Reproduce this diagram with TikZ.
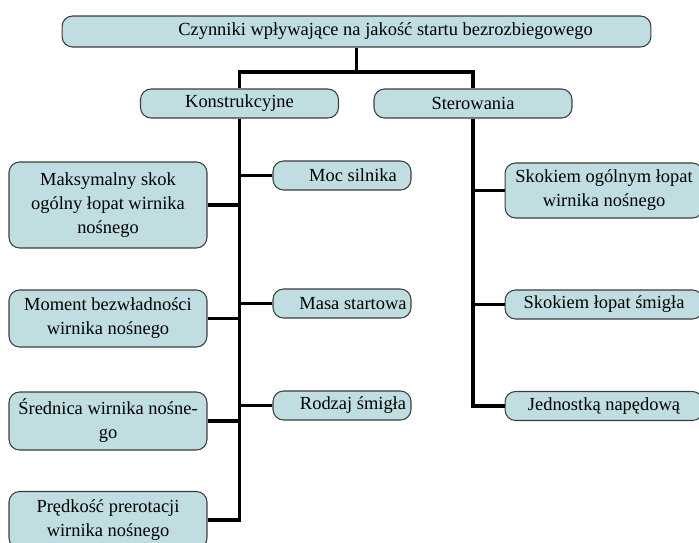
\documentclass[tikz,border=0pt]{standalone}
\usepackage{fontspec}
\setmainfont{Liberation Serif}
\definecolor{boxfill}{RGB}{192,222,226}
\definecolor{boxline}{RGB}{60,60,60}
\tikzset{
  factor/.style={draw=boxline, fill=boxfill, line width=0.6pt, rounded corners=6pt,
    align=center, inner sep=2pt, font=\fontsize{10.5}{13.7}\selectfont,
    minimum width=3.96cm},
  small/.style={factor, minimum width=2.76cm, minimum height=0.58cm},
  link/.style={line width=2pt, line join=miter}
}
\begin{document}
\begin{tikzpicture}[x=0.02cm, y=-0.02cm]
            \useasboundingbox (0,0) rectangle (699,542);
            \clip (0,0) rectangle (699,542);
            % top level
            \node[factor, minimum width=11.78cm, minimum height=0.62cm] (top) at (356.5,31.5)
              {\hspace*{1.16cm}Czynniki wpływające na jakość startu bezrozbiegowego};
            \node[factor, minimum height=0.58cm] (konstr) at (239.5,103.5) {Konstrukcyjne};
            \node[factor, minimum height=0.58cm] (ster) at (473,103.5) {Sterowania};
            \coordinate (split) at (356.5,72);
            \draw[link] (top.south) -- (split);
            \draw[link] (konstr.north) |- (split) -| (ster.north);
            % konstrukcyjne, left column
            \node[factor, minimum height=1.72cm] (skok) at (108,205)
              {Maksymalny skok\\ogólny łopat wirnika\\nośnego};
            \node[factor, minimum height=1.14cm] (moment) at (108,318.5)
              {Moment bezwładności\\wirnika nośnego};
            \node[factor, minimum height=1.16cm] (srednica) at (108,421)
              {Średnica wirnika nośne-\\go};
            \node[factor, minimum height=1.14cm] (predkosc) at (108,520)
              {Prędkość prerotacji\\wirnika nośnego};
            % konstrukcyjne, right column
            \node[small] (moc) at (342,175.5) {\hspace*{0.44cm}Moc silnika};
            \node[small] (masa) at (342,303.5) {\hspace*{0.44cm}Masa startowa};
            \node[small] (smiglo) at (342,405.5) {\hspace*{0.44cm}Rodzaj śmigła};
            \coordinate (kend) at (konstr.south |- predkosc.east);
            \draw[link] (konstr.south) -- (kend) -- (predkosc.east);
            \foreach \n in {skok,moment,srednica}{
              \draw[link] (\n.east) -- (\n.east -| konstr.south);
            }
            \foreach \n in {moc,masa,smiglo}{
              \draw[link] (\n.west) -- (\n.west -| konstr.south);
            }
            % sterowania
            \node[factor, minimum height=1.1cm] (ogolny) at (604,190.5)
              {Skokiem ogólnym łopat\\wirnika nośnego};
            \node[factor, minimum height=0.58cm] (lopaty) at (604,304.5) {Skokiem łopat śmigła};
            \node[factor, minimum height=0.58cm] (naped) at (604,406) {Jednostką napędową};
            \coordinate (send) at (ster.south |- naped.west);
            \draw[link] (ster.south) -- (send) -- (naped.west);
            \foreach \n in {ogolny,lopaty}{
              \draw[link] (\n.west) -- (\n.west -| ster.south);
            }
          \end{tikzpicture}
\end{document}
